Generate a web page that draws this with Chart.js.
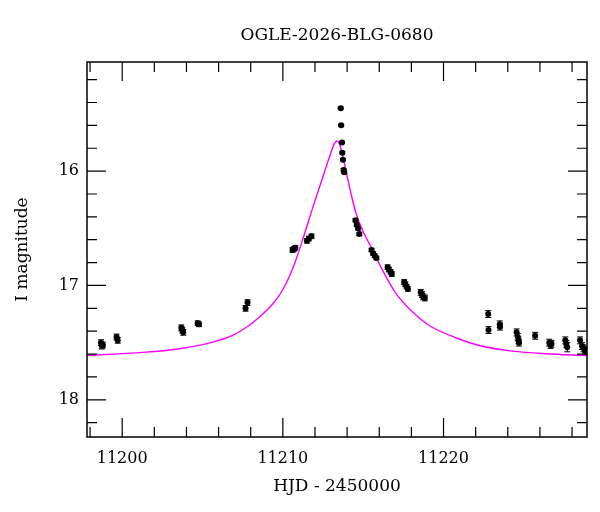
<!DOCTYPE html>
<html>
<head>
<meta charset="utf-8">
<script src="https://cdn.jsdelivr.net/npm/chart.js@4/dist/chart.umd.min.js"></script>
<style>
	body{margin:0;background:#fff;}
	canvas{display:block;}
</style>
</head>
<body>
<canvas id="lc" width="600" height="512"></canvas>
<script>
// photometry
const obsT=[11198.68,11198.74,11198.80,11199.65,11199.72,11203.68,11203.74,11203.80,11204.70,11204.78,
	11207.68,11207.80,11210.60,11210.70,11210.78,11211.50,11211.62,11211.78,
	11213.60,11213.63,11213.68,11213.70,11213.74,11213.78,11213.82,
	11214.52,11214.60,11214.68,11214.76,11215.52,11215.62,11215.72,11215.82,
	11216.52,11216.60,11216.70,11216.78,11217.55,11217.62,11217.70,11217.78,
	11218.58,11218.66,11218.74,11218.84,11222.78,11222.80,11223.50,11223.52,
	11224.55,11224.62,11224.66,11224.70,11225.70,11226.58,11226.66,11226.72,
	11227.58,11227.64,11227.70,11228.50,11228.62,11228.72,11228.80];
const obsMag=[17.50,17.53,17.52,17.45,17.48,17.37,17.39,17.41,17.33,17.34,
	17.20,17.15,16.69,16.68,16.67,16.61,16.59,16.57,
	15.45,15.60,15.75,15.84,15.90,15.99,16.01,
	16.43,16.47,16.50,16.55,16.69,16.72,16.74,16.76,
	16.84,16.86,16.88,16.90,16.97,16.99,17.01,17.03,
	17.06,17.08,17.10,17.11,17.25,17.39,17.34,17.36,
	17.41,17.45,17.48,17.50,17.44,17.50,17.52,17.51,
	17.48,17.51,17.54,17.48,17.53,17.55,17.57];
const obsErr=[0.025,0.025,0.025,0.025,0.025,0.025,0.025,0.025,0.02,0.02,
	0.025,0.025,0.02,0.02,0.02,0.02,0.02,0.02,
	0.01,0.01,0.01,0.01,0.01,0.012,0.012,
	0.015,0.015,0.015,0.015,0.015,0.015,0.015,0.015,
	0.02,0.02,0.02,0.02,0.02,0.02,0.02,0.02,
	0.025,0.025,0.025,0.025,0.03,0.03,0.03,0.03,
	0.03,0.03,0.03,0.03,0.03,0.03,0.03,0.03,
	0.03,0.03,0.04,0.03,0.03,0.03,0.03];

// model curve, traced
const modelT=[11197.83,11199.44,11201.52,11203.58,11205.65,11206.90,11207.73,11208.55,11209.38,
	11210.00,11210.70,11211.30,11211.87,11212.49,11212.90,11213.21,11213.36,11213.52,11213.83,
	11214.15,11214.56,11215.00,11215.59,11216.21,11217.05,11218.08,11219.11,11220.77,11222.22,
	11224.29,11226.36,11228.93];
const modelMag=[17.612,17.600,17.583,17.553,17.495,17.435,17.365,17.275,17.160,
	17.035,16.820,16.570,16.315,16.052,15.877,15.760,15.737,15.760,15.935,
	16.140,16.372,16.530,16.690,16.868,17.072,17.233,17.350,17.457,17.525,
	17.574,17.597,17.612];

const xRange=[11197.81,11228.93];
const yRange=[15.046,18.325];
const xMajor=[11200,11210,11220];
const yMajor=[16,17,18];

const serif="'DejaVu Serif', 'Liberation Serif', serif";

let isStep=(v,s)=>Math.abs(v/s-Math.round(v/s))<1e-6;

const frame={
	id:'frame',
	beforeDatasetsDraw(chart){
		let {ctx,scales:{x,y}}=chart;
		ctx.save();
		ctx.strokeStyle='#000';
		ctx.lineWidth=1;
		obsT.forEach((t,i)=>{
			let px=x.getPixelForValue(t),
				y0=y.getPixelForValue(obsMag[i]-obsErr[i]),
				y1=y.getPixelForValue(obsMag[i]+obsErr[i]);
			ctx.beginPath();
			ctx.moveTo(px,y0);ctx.lineTo(px,y1);
			ctx.moveTo(px-3,y0);ctx.lineTo(px+3,y0);
			ctx.moveTo(px-3,y1);ctx.lineTo(px+3,y1);
			ctx.stroke();
		});
		ctx.restore();
	},
	afterDraw(chart){
		let {ctx,chartArea:a,scales:{x,y}}=chart;
		ctx.save();
		ctx.strokeStyle='#000';
		ctx.lineWidth=1.2;
		x.ticks.forEach((t)=>{
			let px=x.getPixelForValue(t.value),
				len=isStep(t.value,10)?19:10;
			ctx.beginPath();
			ctx.moveTo(px,a.bottom);ctx.lineTo(px,a.bottom-len);
			ctx.moveTo(px,a.top);ctx.lineTo(px,a.top+len);
			ctx.stroke();
		});
		y.ticks.forEach((t)=>{
			let py=y.getPixelForValue(t.value),
				len=isStep(t.value,1)?19:10;
			ctx.beginPath();
			ctx.moveTo(a.left,py);ctx.lineTo(a.left+len,py);
			ctx.moveTo(a.right,py);ctx.lineTo(a.right-len,py);
			ctx.stroke();
		});
		ctx.lineWidth=1.5;
		ctx.strokeRect(a.left,a.top,a.right-a.left,a.bottom-a.top);
		ctx.restore();
	}
};

new Chart(document.getElementById('lc'),{
	type:'scatter',
	data:{
		datasets:[
			{
				data:obsT.map((t,i)=>({x:t,y:obsMag[i]})),
				backgroundColor:'#000',
				borderWidth:0,
				pointRadius:3,
				order:1
			},
			{
				data:modelT.map((t,i)=>({x:t,y:modelMag[i]})),
				showLine:true,
				borderColor:'#ff00ff',
				borderWidth:1.4,
				pointRadius:0,
				cubicInterpolationMode:'monotone',
				order:2
			}
		]
	},
	options:{
		responsive:false,
		animation:false,
		devicePixelRatio:1,
		layout:{padding:{top:0,right:13,bottom:0,left:0}},
		plugins:{
			legend:{display:false},
			tooltip:{enabled:false},
			title:{
				display:true,
				fullSize:false,
				text:'OGLE-2026-BLG-0680',
				color:'#000',
				font:{family:serif,size:17,weight:'normal',lineHeight:1.2},
				padding:{top:25,bottom:16.6}
			}
		},
		scales:{
			x:{
				type:'linear',
				min:xRange[0],
				max:xRange[1],
				grid:{display:false,drawTicks:false},
				border:{display:false},
				ticks:{
					stepSize:2,
					includeBounds:false,
					autoSkip:false,
					maxRotation:0,
					padding:12,
					color:'#000',
					font:{family:serif,size:16},
					callback:(v)=>xMajor.includes(v)?String(v):''
				},
				title:{
					display:true,
					text:'HJD - 2450000',
					color:'#000',
					font:{family:serif,size:17,lineHeight:1.2},
					padding:{top:0,bottom:14.8}
				},
				afterFit:(s)=>{s.height=75;}
			},
			y:{
				type:'linear',
				reverse:true,
				min:yRange[0],
				max:yRange[1],
				grid:{display:false,drawTicks:false},
				border:{display:false},
				ticks:{
					stepSize:0.2,
					includeBounds:false,
					autoSkip:false,
					padding:8,
					color:'#000',
					font:{family:serif,size:16},
					callback:(v)=>{
						let m=yMajor.find((k)=>Math.abs(k-v)<1e-6);
						return m===undefined?'':String(m);
					}
				},
				title:{
					display:true,
					text:'I magnitude',
					color:'#000',
					font:{family:serif,size:17,lineHeight:1.2},
					padding:{top:12,bottom:0}
				},
				afterFit:(s)=>{s.width=87;}
			}
		}
	},
	plugins:[frame]
});
</script>
</body>
</html>
